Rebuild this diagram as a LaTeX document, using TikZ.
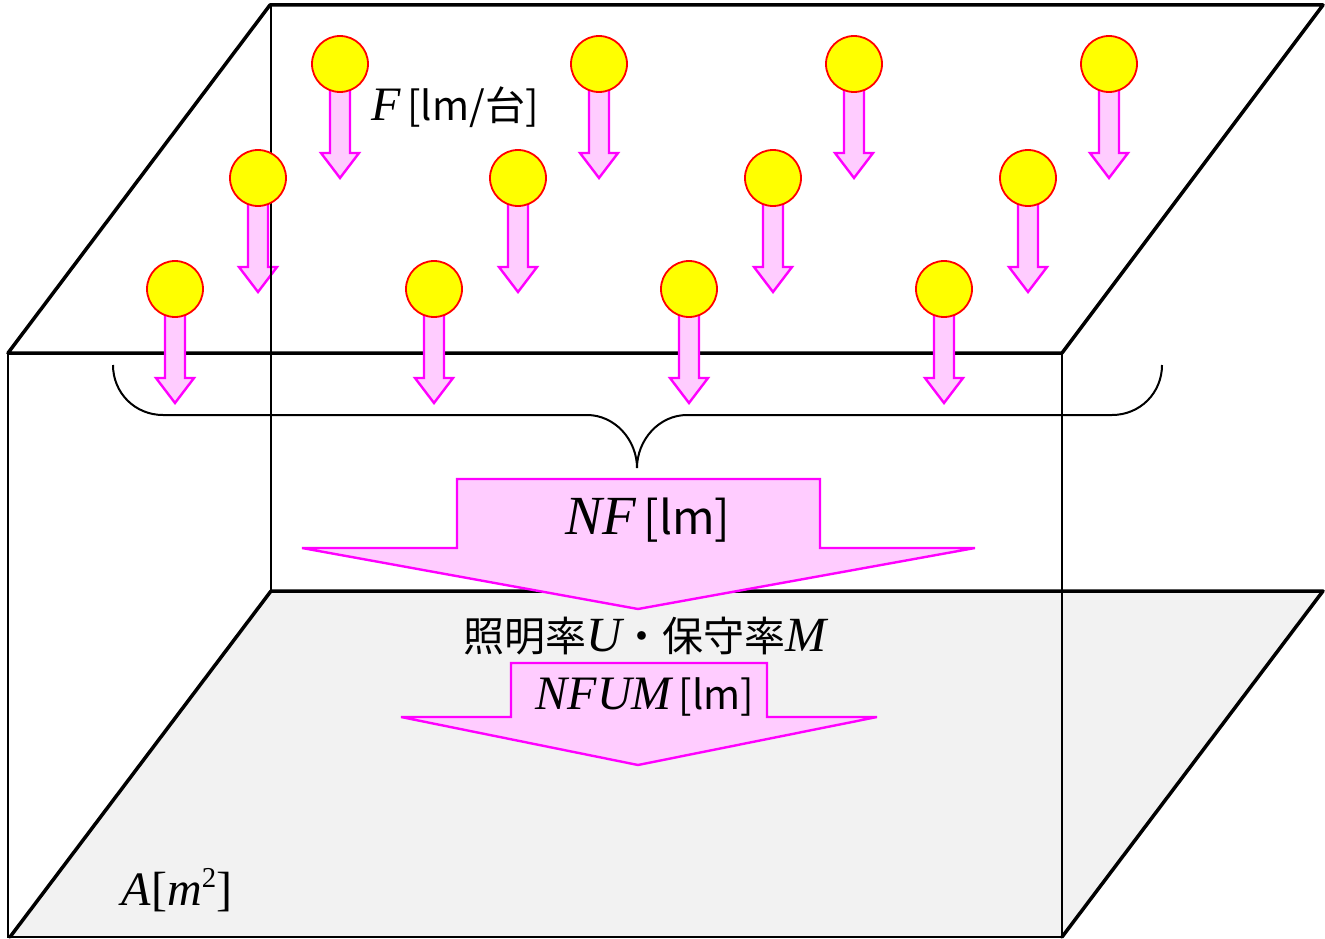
\documentclass[tikz,border=0pt]{standalone}
\usepackage{fontspec}
\setmainfont{Noto Sans CJK JP}
\newfontfamily\varfont{Liberation Serif}[Scale=1.2]
\newcommand\vv[1]{{\varfont\itshape #1}}
\definecolor{pinkfill}{HTML}{FFCCFF}
\definecolor{magline}{HTML}{FF00FF}
\definecolor{lampy}{HTML}{FFFF00}
\definecolor{lampr}{HTML}{FF0000}
\definecolor{floorg}{HTML}{F2F2F2}
\tikzset{
  thickedge/.style={line width=3.5pt, line join=round, line cap=round},
  thinedge/.style={line width=2pt},
  lampbulb/.style={circle, draw=lampr, fill=lampy, line width=1.8pt, minimum size=56pt, inner sep=0pt},
  lamparrow/.style={draw=magline, fill=pinkfill, line width=2.4pt, line join=miter},
  bigarrow/.style={draw=magline, fill=pinkfill, line width=2.4pt, line join=miter},
  bracestyle/.style={line width=2pt},
  lbl/.style={inner sep=0pt, text=black},
}
\begin{document}
\begin{tikzpicture}[x=1pt,y=-1pt]
\useasboundingbox (0,0) rectangle (1325,939);
% floor
\fill[floorg] (271,591) -- (1323,591) -- (1062,937) -- (10,937) -- cycle;
% thin edges
\draw[thinedge] (8,353) -- (8,937) -- (1062,937) -- (1062,353);
% top plane
\draw[thickedge] (270,5) -- (1323,5) -- (1062,353) -- (8,353) -- cycle;
% floor outline
\draw[thickedge] (10,937) -- (271,591) -- (1323,591) -- (1062,937);
% brace
\draw[bracestyle] (113,365) .. controls (113,393) and (135,415) .. (163,415) -- (587,415)
  .. controls (615,415) and (637,440) .. (637,468)
  .. controls (637,440) and (659,415) .. (687,415) -- (1112,415)
  .. controls (1140,415) and (1162,393) .. (1162,365);
% lamp arrows
\foreach \cx/\cy in {340/64,599/64,854/64,1109/64,258/178,518/178,773/178,1028/178,175/289,434/289,689/289,944/289}{
  \draw[lamparrow] (\cx-10,\cy+26) -- (\cx+10,\cy+26) -- (\cx+10,\cy+89) -- (\cx+19,\cy+89)
    -- (\cx,\cy+114) -- (\cx-19,\cy+89) -- (\cx-10,\cy+89) -- cycle;
}
% back vertical edge
\draw[thinedge] (271,5) -- (271,591);
% lamp bulbs
\foreach \cx/\cy [count=\i] in {340/64,599/64,854/64,1109/64,258/178,518/178,773/178,1028/178,175/289,434/289,689/289,944/289}{
  \node[lampbulb] (lamp\i) at (\cx,\cy) {};
}
% big arrows
\draw[bigarrow] (457,479) -- (820,479) -- (820,548) -- (975,548) -- (638,609) -- (302,548) -- (457,548) -- cycle;
\draw[bigarrow] (511,663) -- (767,663) -- (767,717) -- (877,717) -- (638,765) -- (401,717) -- (511,717) -- cycle;
% labels
\node[lbl, font=\fontsize{40}{48}\selectfont] (flabel) at (455,107) {\vv{F}\,[lm/台]};
\node[lbl, font=\fontsize{46}{54}\selectfont] (nflabel) at (648,520) {\vv{NF}\,[lm]};
\node[lbl, font=\fontsize{41}{48}\selectfont] (umlabel) at (645,636) {照明率\vv{U}・保守率\vv{M}};
\node[lbl, font=\fontsize{40}{48}\selectfont] (nfumlabel) at (645,697) {\vv{NFUM}\,[lm]};
\node[lbl, font=\fontsize{40}{48}\selectfont] (alabel) at (177,890) {\vv{A}{\varfont[}\vv{m}\raisebox{0.45em}{\varfont\fontsize{24}{24}\selectfont 2}{\varfont]}};
\end{tikzpicture}
\end{document}
